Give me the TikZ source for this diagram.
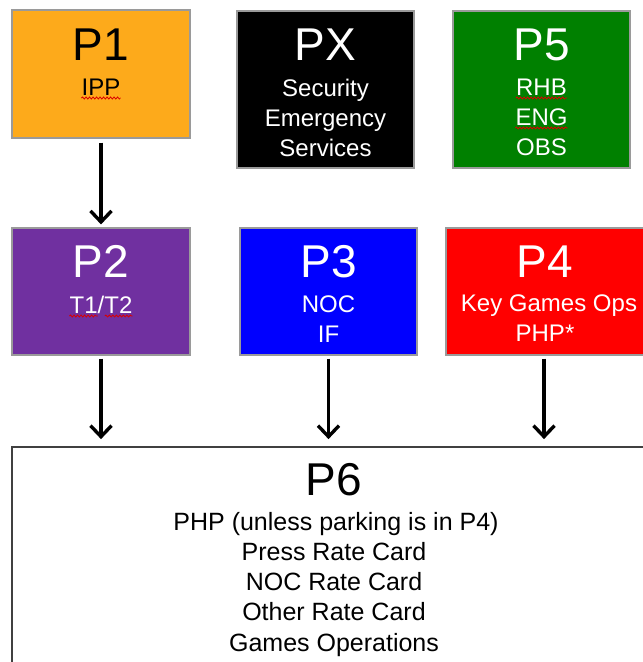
\documentclass[tikz,border=0pt]{standalone}
\usepackage{fontspec}
\setmainfont{Liberation Sans}
\usetikzlibrary{arrows.meta,decorations.pathmorphing,calc}
\definecolor{porange}{HTML}{FDAA1B}
\definecolor{pgreen}{HTML}{008000}
\definecolor{ppurple}{HTML}{7030A0}
\definecolor{pblue}{HTML}{0000FF}
\definecolor{pred}{HTML}{FF0000}
\definecolor{bordergray}{HTML}{9A9A9A}
\definecolor{darkborder}{HTML}{404040}
\tikzset{
  pbox/.style={draw=bordergray, line width=1.2pt, rectangle, inner sep=0pt},
  ptitle/.style={anchor=base, inner sep=0pt, font=\fontsize{46}{46}\selectfont},
  psub/.style={anchor=base, inner sep=0pt, font=\fontsize{24}{30}\selectfont},
  bsub/.style={anchor=base, inner sep=0pt, font=\fontsize{25}{30}\selectfont},
  flow/.style={line width=3.4pt, -{Straight Barb[length=11pt,width=21pt,line width=3.4pt]}},
  spell/.style={draw=red!85!black, line width=0.8pt, decorate,
    decoration={snake, amplitude=1pt, segment length=3.5pt}}
}
\begin{document}
\begin{tikzpicture}[x=1pt,y=-1pt]
\useasboundingbox (0,0) rectangle (643,662);
\clip (0,0) rectangle (643,662);
\fill[white] (0,0) rectangle (643,662);

% row 1
\node[pbox, fill=porange, minimum width=178pt, minimum height=128pt] (p1) at (101,74) {};
\node[pbox, fill=black, minimum width=177pt, minimum height=157pt] (px) at (325.5,89.5) {};
\node[pbox, fill=pgreen, minimum width=177pt, minimum height=157pt] (p5) at (541.5,89.5) {};
% row 2
\node[pbox, fill=ppurple, minimum width=178pt, minimum height=127pt] (p2) at (101,291.5) {};
\node[pbox, fill=pblue, minimum width=177pt, minimum height=127pt] (p3) at (328.5,291.5) {};
\node[pbox, fill=pred, minimum width=198pt, minimum height=127pt] (p4) at (545,291.5) {};
% bottom box
\node[draw=darkborder, line width=1.8pt, rectangle, inner sep=0pt, fill=white,
      minimum width=644pt, minimum height=240pt] (p6) at (334,567) {};

% texts P1
\node[ptitle, text=black] (p1t) at (101,60) {P1};
\node[psub, text=black] (p1a) at (101,95) {IPP};
% PX
\node[ptitle, text=white] (pxt) at (325.5,60) {PX};
\node[psub, text=white] (pxa) at (325.5,96) {Security};
\node[psub, text=white] (pxb) at (325.5,126) {Emergency};
\node[psub, text=white] (pxc) at (325.5,156) {Services};
% P5
\node[ptitle, text=white] (p5t) at (541.5,60) {P5};
\node[psub, text=white] (p5a) at (541.5,95) {RHB};
\node[psub, text=white] (p5b) at (541.5,125) {ENG};
\node[psub, text=white] (p5c) at (541.5,155) {OBS};
% P2
\node[ptitle, text=white] (p2t) at (101,277) {P2};
\node[psub, text=white] (p2a) at (101,313) {T1/T2};
% P3
\node[ptitle, text=white] (p3t) at (328.5,277) {P3};
\node[psub, text=white] (p3a) at (328.5,312) {NOC};
\node[psub, text=white] (p3b) at (328.5,342) {IF};
% P4
\node[ptitle, text=white] (p4t) at (545,277) {P4};
\node[psub, text=white] (p4a) at (549,311) {Key Games Ops};
\node[psub, text=white] (p4b) at (545,341) {PHP*};
% P6
\node[ptitle, text=black] (p6t) at (334,495) {P6};
\node[bsub, text=black] (p6a) at (336,530) {PHP (unless parking is in P4)};
\node[bsub, text=black] (p6b) at (334,560) {Press Rate Card};
\node[bsub, text=black] (p6c) at (334,590) {NOC Rate Card};
\node[bsub, text=black] (p6d) at (334,620) {Other Rate Card};
\node[bsub, text=black] (p6e) at (334,651) {Games Operations};

% spell-check underlines
\draw[spell] ([yshift=-3pt]p1a.base west) -- ([yshift=-3pt]p1a.base east);
\draw[spell] ([yshift=-3pt]p5a.base west) -- ([yshift=-3pt]p5a.base east);
\draw[spell] ([yshift=-3pt]p5b.base west) -- ([yshift=-3pt]p5b.base east);
\draw[spell] ([yshift=-3pt]p2a.base west) -- ($([yshift=-3pt]p2a.base west)!0.45!([yshift=-3pt]p2a.base east)$);
\draw[spell] ($([yshift=-3pt]p2a.base west)!0.56!([yshift=-3pt]p2a.base east)$) -- ([yshift=-3pt]p2a.base east);

% connectors
\draw[flow, shorten <=4pt, shorten >=3pt] (p1.south) -- (p2.north);
\draw[flow, shorten <=3pt, shorten >=7pt] (p2.south) -- (p2.south |- p6.north);
\draw[flow, shorten <=3pt, shorten >=7pt] (p3.south) -- (p3.south |- p6.north);
\draw[flow, shorten <=3pt, shorten >=7pt] ([xshift=-1pt]p4.south) -- ([xshift=-1pt]p4.south |- p6.north);
\end{tikzpicture}
\end{document}
